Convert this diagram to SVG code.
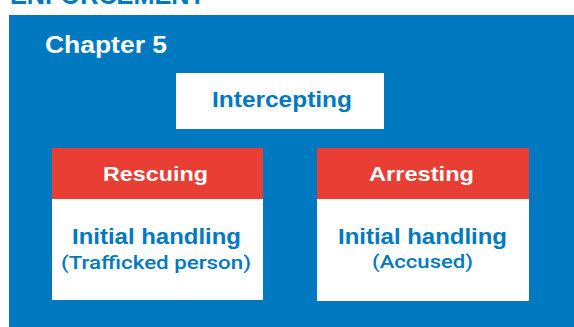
<svg xmlns="http://www.w3.org/2000/svg" width="574" height="327" viewBox="0 0 574 327">
  <style>
    .bg { fill: #0079C1; }
    .box { fill: #FFFFFF; }
    .hdr { fill: #E83E33; }
    .t { font-family: "Liberation Sans", Arial, sans-serif; font-weight: bold; }
    .white { fill: #FFFFFF; }
    .blue { fill: #0079C1; }
    .sub { font-family: Roboto, "Liberation Sans", Arial, sans-serif; font-weight: 500; }
  </style>
  <rect width="574" height="327" fill="#FFFFFF"/>
  <text class="t blue" x="10" y="4" font-size="26" textLength="195" lengthAdjust="spacingAndGlyphs">ENFORCEMENT</text>
  <rect class="bg" x="9" y="15" width="565" height="312"/>
  <g id="chapter-label">
    <text class="t white" x="45" y="53" font-size="23" textLength="122" lengthAdjust="spacingAndGlyphs">Chapter 5</text>
  </g>
  <g id="connectors"></g>
  <g id="node-intercepting">
    <rect class="box" x="176" y="73" width="208" height="56"/>
    <text class="t blue" x="282" y="107" font-size="22" text-anchor="middle" textLength="140" lengthAdjust="spacingAndGlyphs">Intercepting</text>
  </g>
  <g id="node-rescuing">
    <rect class="box" x="52" y="148" width="211" height="152"/>
    <rect class="hdr" x="52" y="148" width="211" height="51"/>
    <text class="t white" x="155.5" y="181" font-size="21" text-anchor="middle" textLength="105" lengthAdjust="spacingAndGlyphs">Rescuing</text>
    <text class="t blue" x="156.5" y="244" font-size="22" text-anchor="middle" textLength="169" lengthAdjust="spacingAndGlyphs">Initial handling</text>
    <text class="sub blue" x="156" y="269" font-size="19" text-anchor="middle" textLength="190" lengthAdjust="spacingAndGlyphs">(Trafficked person)</text>
  </g>
  <g id="node-arresting">
    <rect class="box" x="317" y="148" width="212" height="153"/>
    <rect class="hdr" x="317" y="148" width="212" height="51"/>
    <text class="t white" x="421.5" y="181" font-size="21" text-anchor="middle" textLength="105" lengthAdjust="spacingAndGlyphs">Arresting</text>
    <text class="t blue" x="422.5" y="244" font-size="22" text-anchor="middle" textLength="169" lengthAdjust="spacingAndGlyphs">Initial handling</text>
    <text class="sub blue" x="422.5" y="268" font-size="19" text-anchor="middle" textLength="101" lengthAdjust="spacingAndGlyphs">(Accused)</text>
  </g>
</svg>
